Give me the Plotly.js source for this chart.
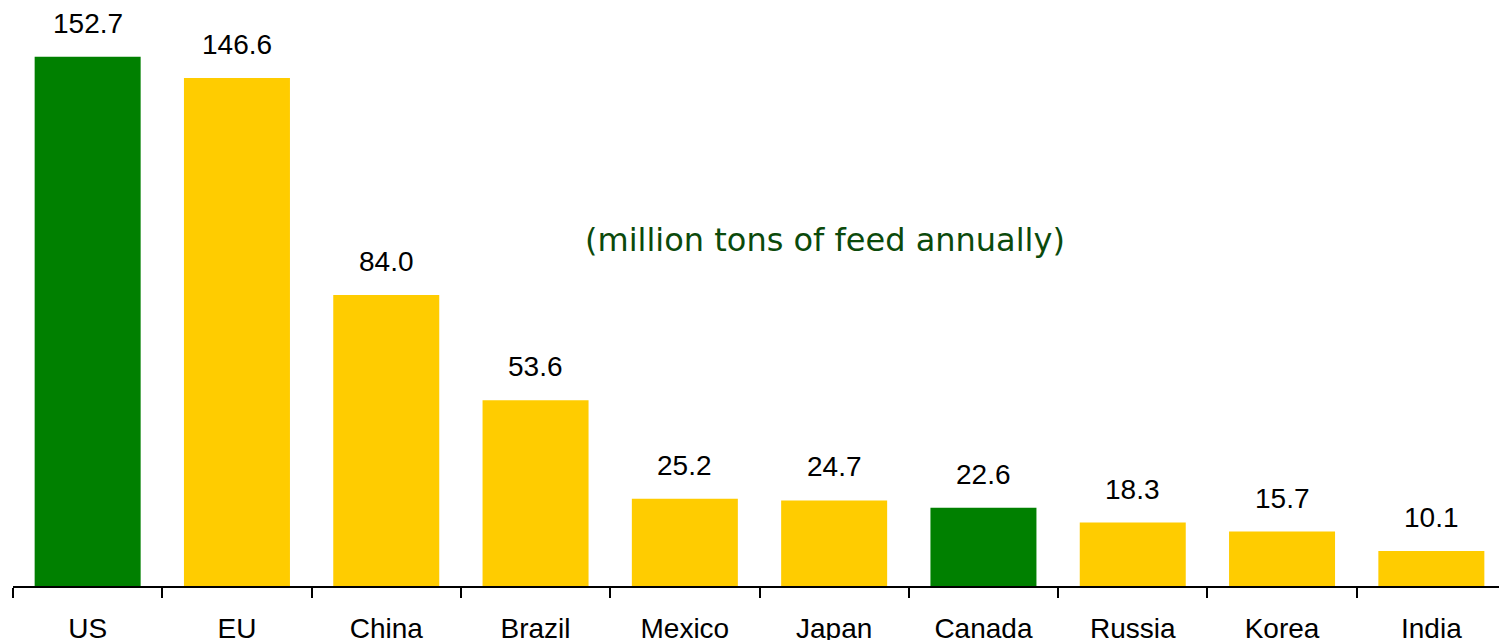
<!DOCTYPE html>
<html>
<head>
<meta charset="utf-8">
<script src="https://cdn.plot.ly/plotly-3.0.1.min.js"></script>
<style>
html,body{margin:0;padding:0;overflow:hidden;background:#fff;}
#chart{width:1506px;height:640px;}
</style>
</head>
<body>
<div id="chart"></div>
<script>
const categories = ["US","EU","China","Brazil","Mexico","Japan","Canada","Russia","Korea","India"];
const values = [152.7,146.6,84.0,53.6,25.2,24.7,22.6,18.3,15.7,10.1];
const barColors = ["#008000","#FFCC00","#FFCC00","#FFCC00","#FFCC00","#FFCC00","#008000","#FFCC00","#FFCC00","#FFCC00"];
const unitNote = "(million tons of feed annually)";

const trace = {
  type: "bar",
  x: categories,
  y: values,
  marker: {color: barColors, line: {width: 0}},
  hoverinfo: "skip"
};

const annotations = categories.map((c, i) => ({
  x: c, y: values[i], xref: "x", yref: "y",
  text: values[i].toFixed(1),
  showarrow: false, yanchor: "bottom", yshift: 16,
  font: {family: "Liberation Sans, Arial, sans-serif", size: 28, color: "#000"}
}));
annotations.push({
  x: (825 - 13) / 1493, y: (586 - 240) / 586, xref: "paper", yref: "paper",
  text: unitNote, showarrow: false,
  font: {family: "DejaVu Sans, Verdana, sans-serif", size: 32, color: "#0B4A0B"}
});

const layout = {
  width: 1506, height: 640,
  margin: {l: 13, r: 0, t: 0, b: 54, pad: 0},
  paper_bgcolor: "#fff", plot_bgcolor: "#fff",
  showlegend: false,
  bargap: 0.29,
  xaxis: {
    type: "category",
    showline: true, linecolor: "#000", linewidth: 2,
    ticks: "outside", tickson: "boundaries", ticklen: 10, tickwidth: 2, tickcolor: "#000",
    ticklabelstandoff: 16,
    showgrid: false, zeroline: false,
    tickfont: {family: "Liberation Sans, Arial, sans-serif", size: 28, color: "#000"},
    fixedrange: true
  },
  yaxis: {
    range: [0, 169.1], visible: false, showgrid: false, zeroline: false, fixedrange: true
  },
  annotations: annotations
};

Plotly.newPlot("chart", [trace], layout, {displayModeBar: false, staticPlot: true});
</script>
</body>
</html>
